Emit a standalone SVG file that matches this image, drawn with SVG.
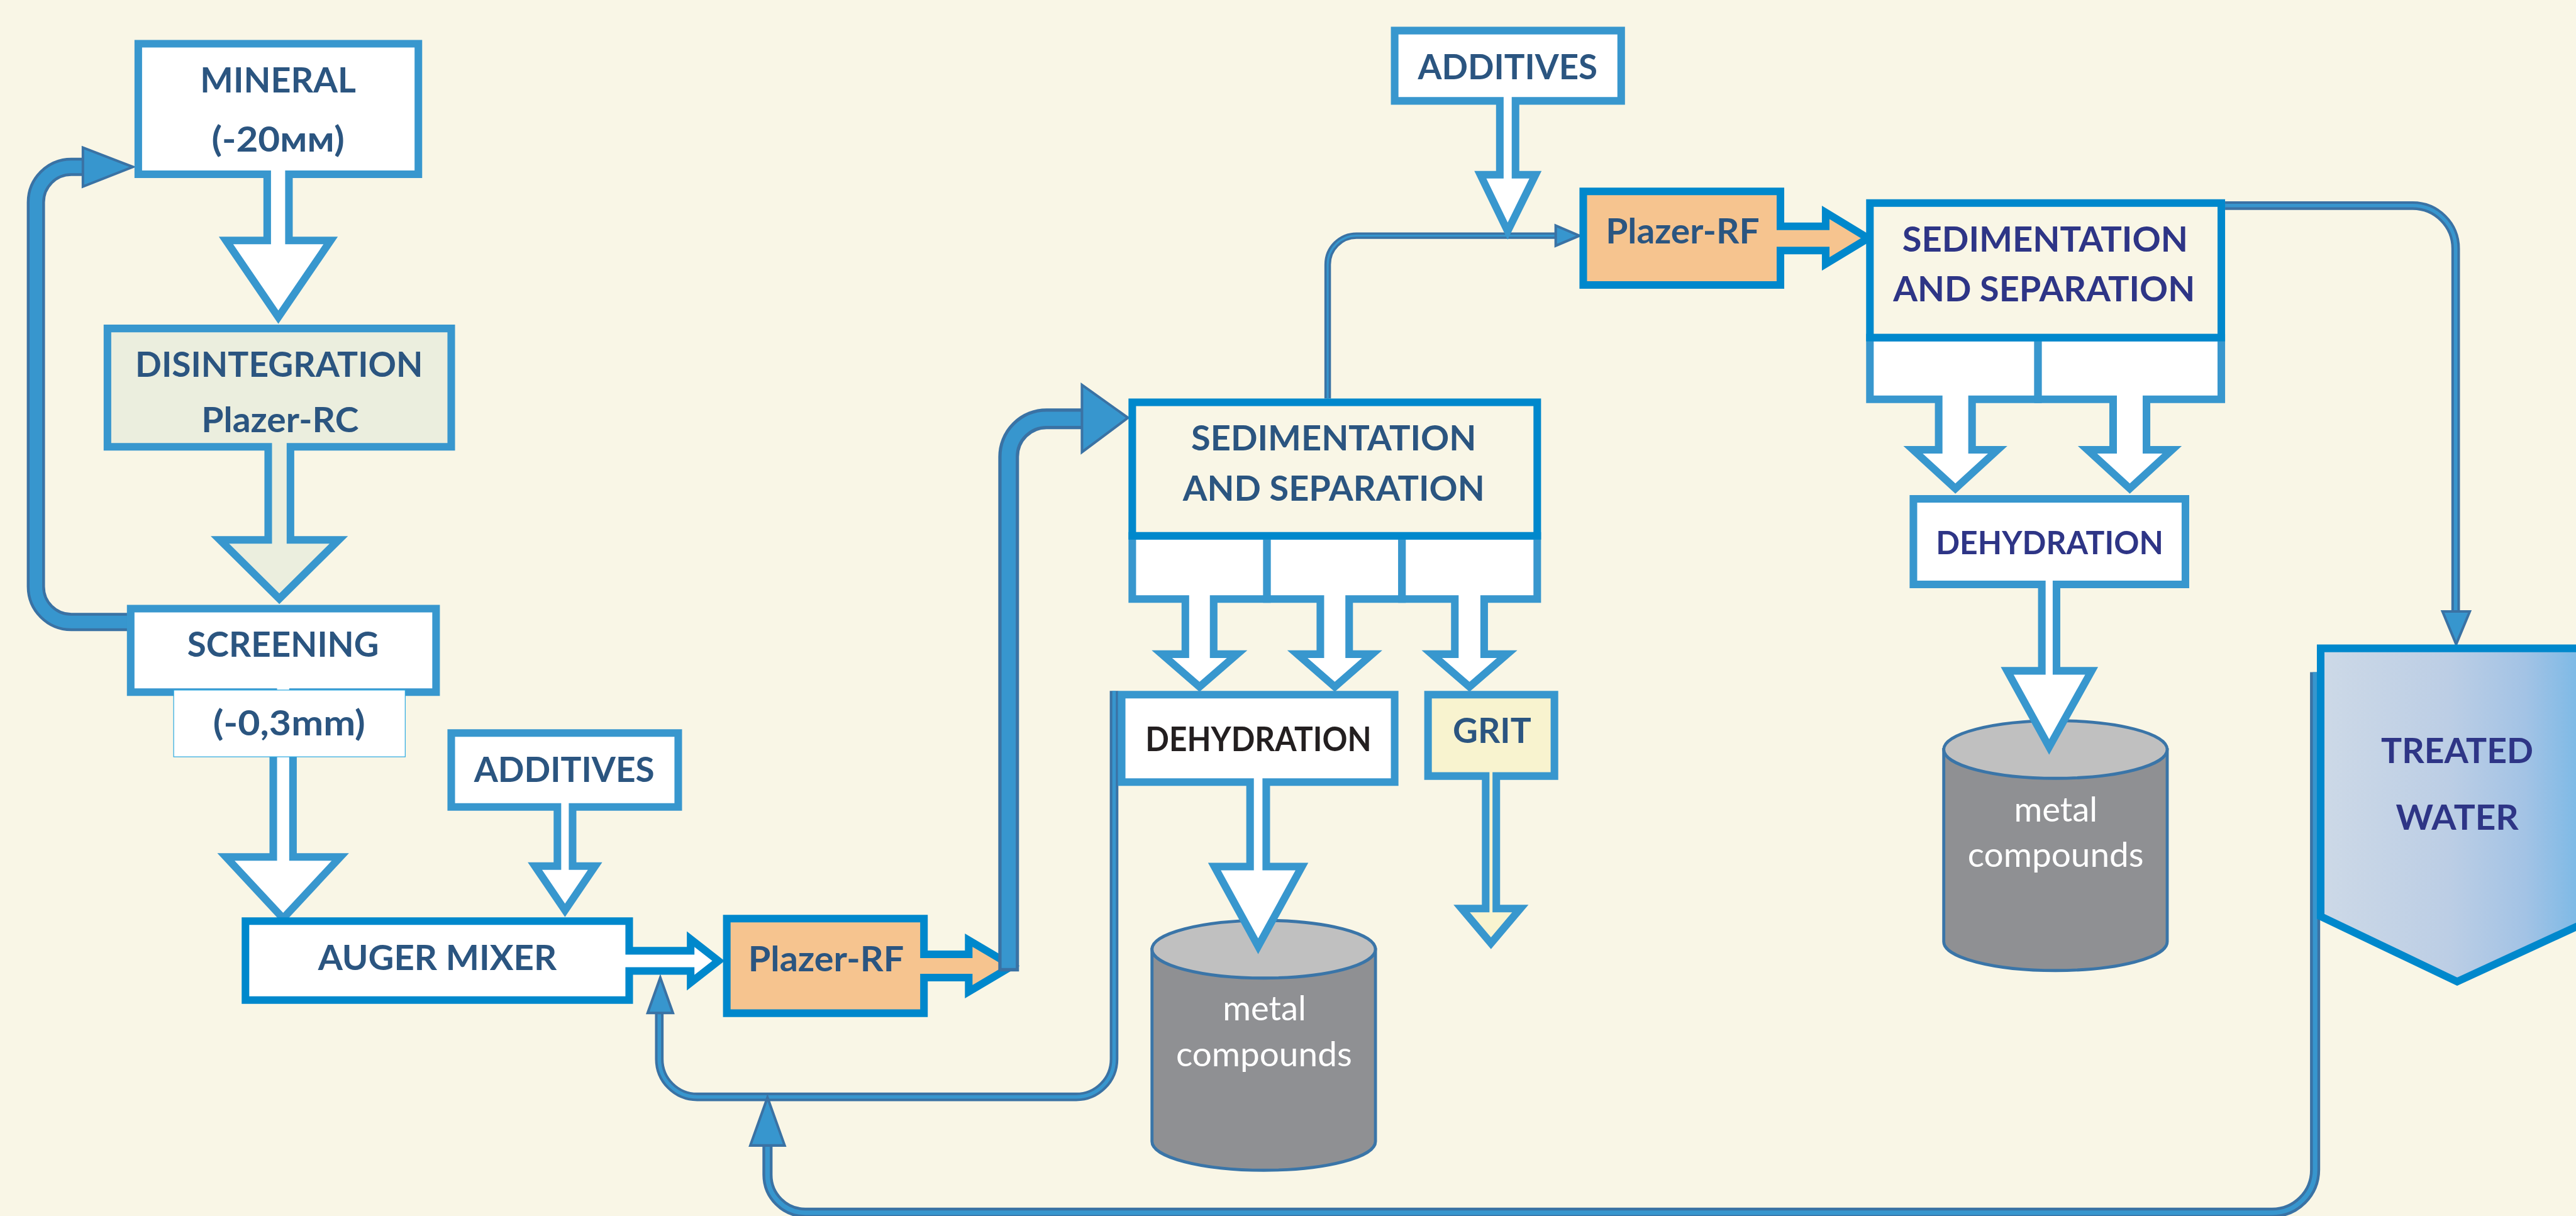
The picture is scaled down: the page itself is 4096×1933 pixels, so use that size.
<svg xmlns="http://www.w3.org/2000/svg" width="4096" height="1933" viewBox="0 0 4096 1933">
<defs>
<style>
.lb{fill:#fff;stroke:#3897CE;stroke-width:15;stroke-linejoin:miter;stroke-miterlimit:12}
.db{stroke:#0088CC;stroke-width:15;stroke-linejoin:miter;stroke-miterlimit:12}
.t{font-family:Lato,"Open Sans","Noto Sans",sans-serif;font-weight:700;font-size:70px;text-anchor:middle;fill:#2B5580}
.ind{fill:#2E3586}
.w{font-family:Lato,"Open Sans","Noto Sans",sans-serif;font-weight:400;font-size:68px;text-anchor:middle;fill:#FFFFFF}
.po{fill:none;stroke:#3A72A4;stroke-linejoin:round}
.pi{fill:none;stroke:#3796CE;stroke-linejoin:round}
.ah{fill:#3796CE;stroke:#3A72A4;stroke-width:5;stroke-linejoin:miter}
.cylb{fill:#8F9093;stroke:#3A75A8;stroke-width:6}
.cylt{fill:#C0C0C0;stroke:#3A75A8;stroke-width:6}
</style>
<linearGradient id="tw" gradientUnits="userSpaceOnUse" x1="4590" y1="0" x2="5095" y2="0">
<stop offset="0" stop-color="#CDD9E7"/>
<stop offset="0.5" stop-color="#BCCEE5"/>
<stop offset="0.8" stop-color="#A3C3E5"/>
<stop offset="1" stop-color="#7FBAE6"/>
</linearGradient>
</defs>
<rect x="0" y="0" width="4096" height="1933" fill="#F9F6E6"/>
<g transform="scale(0.80392)">

<g id="connectors">
<!-- left loop pipe -->
<path class="po" stroke-width="36" d="M257,1230 H141 A70,70 0 0 1 71,1160 V400 A70,70 0 0 1 141,330 H168"/>
<path class="pi" stroke-width="25" d="M257,1230 H141 A70,70 0 0 1 71,1160 V400 A70,70 0 0 1 141,330 H168"/>
<polygon class="ah" points="164,292 263,330 164,369"/>
<!-- return line 1 -->
<path class="po" stroke-width="17" d="M2203.5,1366 V2094 A75,75 0 0 1 2128.5,2169 H1379 A75,75 0 0 1 1304,2094 V2000"/>
<path class="pi" stroke-width="7" d="M2203.5,1366 V2094 A75,75 0 0 1 2128.5,2169 H1379 A75,75 0 0 1 1304,2094 V2000"/>
<polygon class="ah" stroke-width="4" points="1281,2003 1306,1933 1331,2003"/>
<!-- return line 2 -->
<path class="po" stroke-width="20" d="M4579,1329 V2313 A85,85 0 0 1 4494,2398 H1593 A75,75 0 0 1 1518,2323 V2262"/>
<path class="pi" stroke-width="9" d="M4579,1329 V2313 A85,85 0 0 1 4494,2398 H1593 A75,75 0 0 1 1518,2323 V2262"/>
<polygon class="ah" stroke-width="4" points="1484,2265 1518,2170 1552,2265"/>
<!-- SED2 to treated water -->
<path class="po" stroke-width="17" d="M4401,406.5 H4772 A85,85 0 0 1 4857,491.5 V1210"/>
<path class="pi" stroke-width="7" d="M4401,406.5 H4772 A85,85 0 0 1 4857,491.5 V1210"/>
<polygon class="ah" stroke-width="4" points="4831,1209 4858,1274 4885,1209"/>
<!-- SED1 to Plazer-RF 2 -->
<path class="po" stroke-width="13" d="M2626,788 V523 A57,57 0 0 1 2683,466 H3078"/>
<path class="pi" stroke-width="4" d="M2626,788 V523 A57,57 0 0 1 2683,466 H3078"/>
<polygon class="ah" stroke-width="4" points="3077,446 3124,466 3077,486"/>
</g>

<g id="mineral">
<path class="lb" d="M273.5,86.5 H827.5 V344.5 H571.5 V475.5 H654 L550.5,627 L447,475.5 H528.5 V344.5 H273.5 Z"/>
<text class="t" x="550" y="183" textLength="308" lengthAdjust="spacingAndGlyphs">MINERAL</text>
<text class="t" x="550" y="300" textLength="263" lengthAdjust="spacingAndGlyphs">(-20мм)</text>
</g>

<g id="disintegration">
<path class="lb" style="fill:#EBEEDE" d="M212.5,649.5 H892.5 V883.5 H574.5 V1067.5 H670 L552.5,1184 L435,1067.5 H530.5 V883.5 H212.5 Z"/>
<text class="t" x="552" y="745" textLength="569" lengthAdjust="spacingAndGlyphs">DISINTEGRATION</text>
<text class="t" x="554" y="854" textLength="311" lengthAdjust="spacingAndGlyphs">Plazer-RC</text>
</g>

<g id="screening">
<path class="lb" d="M258.5,1203.5 H862.5 V1368.5 H579.5 V1694.5 H673 L560,1816 L447,1694.5 H540.5 V1368.5 H258.5 Z"/>
<text class="t" x="560" y="1299" textLength="379" lengthAdjust="spacingAndGlyphs">SCREENING</text>
<rect x="343.5" y="1364.5" width="458" height="132" fill="#FFFFFF" stroke="#29A8E0" stroke-width="1.5"/>
<text class="t" x="572" y="1454" textLength="301" lengthAdjust="spacingAndGlyphs">(-0,3mm)</text>
</g>

<g id="auger-mixer">
<path class="db" fill="#FFFFFF" d="M485.5,1821.5 H1244.5 V1880 H1366 V1857 L1421,1900 L1366,1943 V1920 H1244.5 V1977.5 H485.5 Z"/>
<text class="t" x="865" y="1918" textLength="472" lengthAdjust="spacingAndGlyphs">AUGER MIXER</text>
</g>

<g id="additives-1">
<path class="lb" d="M892.5,1449.5 H1341.5 V1595.5 H1132.5 V1712.5 H1177 L1117.5,1800 L1058,1712.5 H1102.5 V1595.5 H892.5 Z"/>
<text class="t" x="1116" y="1546" textLength="357" lengthAdjust="spacingAndGlyphs">ADDITIVES</text>
</g>

<g id="plazer-rf-1">
<path class="db" fill="#F6C48F" d="M1437.5,1816.5 H1827.5 V1887 H1916 V1859 L2002,1910 L1916,1961 V1933 H1827.5 V2003.5 H1437.5 Z"/>
<text class="t" x="1634" y="1920" textLength="308" lengthAdjust="spacingAndGlyphs">Plazer-RF</text>
</g>

<g id="main-pipe">
<path class="po" stroke-width="41" stroke-linejoin="miter" d="M1995,1921 V903 A75,75 0 0 1 2070,828 H2143"/>
<path class="pi" stroke-width="28" d="M1995,1914 V903 A75,75 0 0 1 2070,828 H2143"/>
<polygon class="ah" stroke-width="6" points="2140,761 2231,826 2140,894"/>
</g>

<g id="sedimentation-1">
<path class="lb" d="M2239.5,1059.5 H2506 V1184.5 H2400.5 V1293.5 H2447 L2372.5,1358 L2298,1293.5 H2344.5 V1184.5 H2239.5 Z"/>
<path class="lb" d="M2506,1059.5 H2773 V1184.5 H2668.5 V1293.5 H2714 L2640,1358 L2566,1293.5 H2611.5 V1184.5 H2506 Z"/>
<path class="lb" d="M2773,1059.5 H3040.5 V1184.5 H2935.5 V1293.5 H2981 L2906.5,1358 L2832,1293.5 H2877.5 V1184.5 H2773 Z"/>
<rect class="db" fill="#F9F6E6" x="2239.5" y="795.5" width="801" height="264"/>
<text class="t" x="2638" y="891" textLength="564" lengthAdjust="spacingAndGlyphs">SEDIMENTATION</text>
<text class="t" x="2638" y="990" textLength="597" lengthAdjust="spacingAndGlyphs">AND SEPARATION</text>
</g>

<g id="metal-compounds-1">
<path class="cylb" d="M2278.5,1877 V2257 A221,57 0 0 0 2720.5,2257 V1877 Z"/>
<ellipse class="cylt" cx="2499.5" cy="1877" rx="221" ry="57"/>
<text class="w" x="2501" y="2017" textLength="165" lengthAdjust="spacingAndGlyphs">metal</text>
<text class="w" x="2500" y="2108" textLength="348" lengthAdjust="spacingAndGlyphs">compounds</text>
</g>

<g id="dehydration-1">
<path class="lb" d="M2218.5,1373.5 H2758.5 V1546.5 H2504.5 V1713.5 H2575 L2488.5,1871 L2402,1713.5 H2472.5 V1546.5 H2218.5 Z"/>
<text class="t" x="2489" y="1485" style="fill:#231F20;font-size:66px" textLength="447" lengthAdjust="spacingAndGlyphs">DEHYDRATION</text>
</g>

<g id="grit">
<path class="lb" style="fill:#F8F3CF" d="M2824.5,1373.5 H3074.5 V1534.5 H2959.5 V1796.5 H3007 L2949,1865 L2891,1796.5 H2938.5 V1534.5 H2824.5 Z"/>
<text class="t" x="2951" y="1469" textLength="155" lengthAdjust="spacingAndGlyphs">GRIT</text>
</g>

<g id="additives-2">
<path class="lb" d="M2758.5,60.5 H3206.5 V199.5 H2997.5 V345.5 H3037 L2982,457 L2928,345.5 H2966.5 V199.5 H2758.5 Z"/>
<text class="t" x="2982" y="157" textLength="355" lengthAdjust="spacingAndGlyphs">ADDITIVES</text>
</g>

<g id="plazer-rf-2">
<path class="db" fill="#F6C48F" d="M3131.5,378.5 H3521.5 V447.5 H3611 V420 L3695,471 L3611,522 V495.5 H3521.5 V563.5 H3131.5 Z"/>
<text class="t" x="3328" y="481" textLength="304" lengthAdjust="spacingAndGlyphs">Plazer-RF</text>
</g>

<g id="sedimentation-2">
<path class="lb" d="M3698.5,667.5 H4031 V789.5 H3900.5 V889.5 H3951 L3867.5,966 L3784,889.5 H3834.5 V789.5 H3698.5 Z"/>
<path class="lb" d="M4031,667.5 H4393.5 V789.5 H4245.5 V889.5 H4296 L4212.5,966 L4129,889.5 H4179.5 V789.5 H4031 Z"/>
<rect class="db" fill="#F9F6E6" x="3698.5" y="401.5" width="695" height="266"/>
<text class="t ind" x="4045" y="497" textLength="565" lengthAdjust="spacingAndGlyphs">SEDIMENTATION</text>
<text class="t ind" x="4043" y="596" textLength="597" lengthAdjust="spacingAndGlyphs">AND SEPARATION</text>
</g>

<g id="metal-compounds-2">
<path class="cylb" d="M3844.5,1482 V1862 A221,57 0 0 0 4286.5,1862 V1482 Z"/>
<ellipse class="cylt" cx="4065.5" cy="1482" rx="221" ry="57"/>
<text class="w" x="4066" y="1624" textLength="165" lengthAdjust="spacingAndGlyphs">metal</text>
<text class="w" x="4066" y="1714" textLength="348" lengthAdjust="spacingAndGlyphs">compounds</text>
</g>

<g id="dehydration-2">
<path class="lb" d="M3784.5,986.5 H4322.5 V1155.5 H4067.5 V1326.5 H4137 L4053,1477 L3970,1326.5 H4038.5 V1155.5 H3784.5 Z"/>
<text class="t ind" x="4054" y="1096" style="font-size:64px" textLength="450" lengthAdjust="spacingAndGlyphs">DEHYDRATION</text>
</g>

<g id="treated-water">
<path class="db" fill="url(#tw)" d="M4590,1282 H5140 V1812 L4860,1941 L4590,1812 Z"/>
<text class="t ind" x="4860" y="1509" textLength="301" lengthAdjust="spacingAndGlyphs">TREATED</text>
<text class="t ind" x="4860" y="1641" textLength="243" lengthAdjust="spacingAndGlyphs">WATER</text>
</g>

</g>
</svg>
